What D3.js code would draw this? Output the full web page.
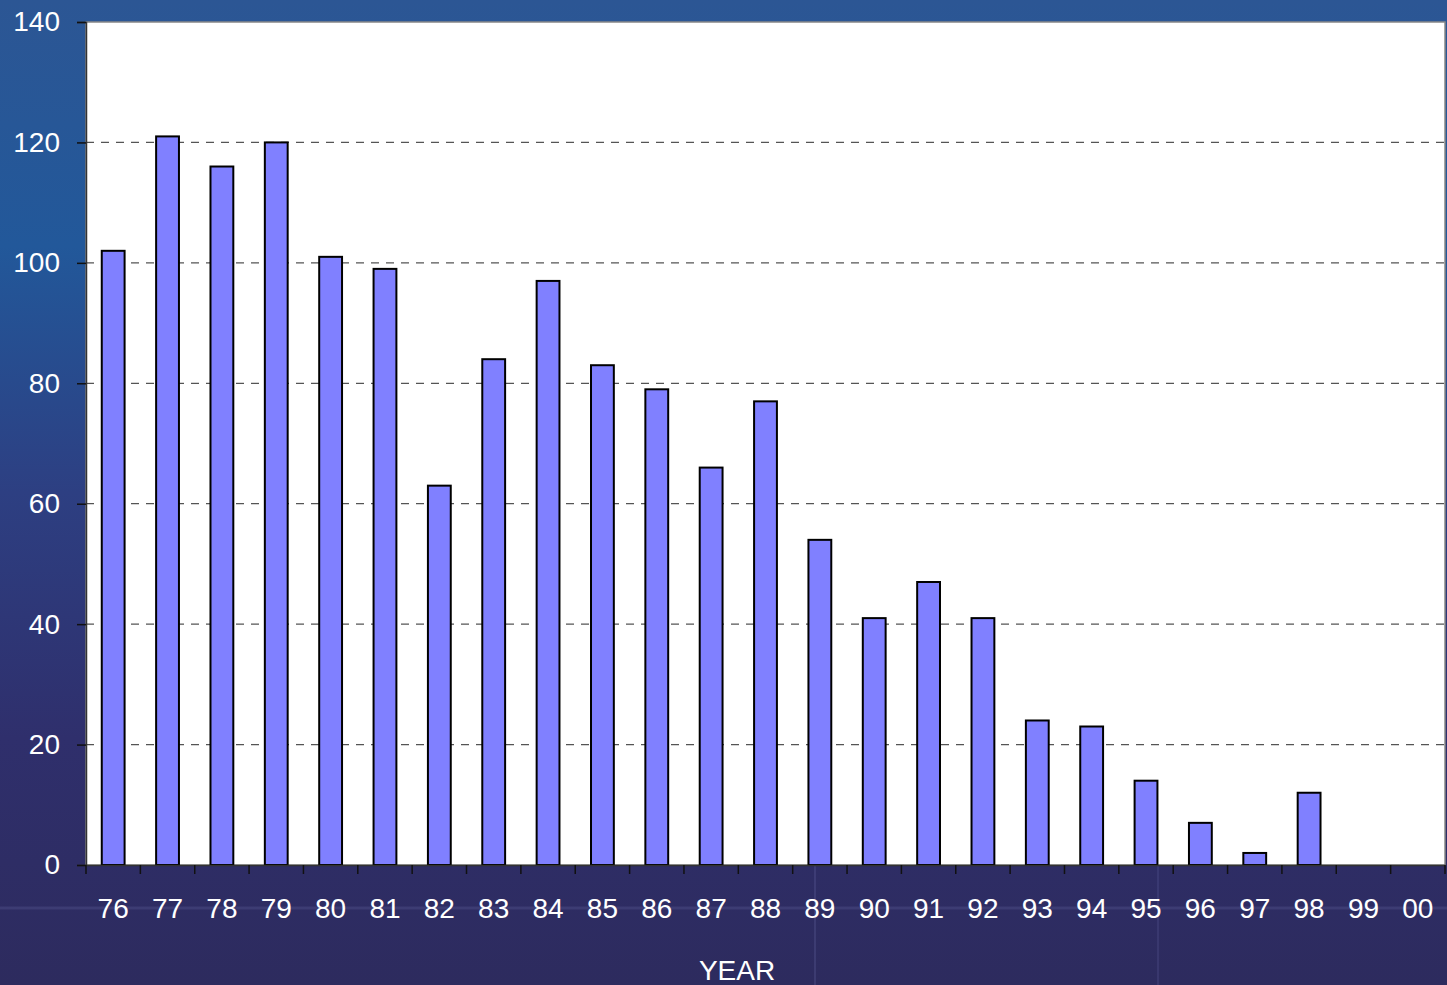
<!DOCTYPE html>
<html>
<head>
<meta charset="utf-8">
<script src="https://cdn.jsdelivr.net/npm/d3@7"></script>
<style>
  html, body { margin: 0; padding: 0; overflow: hidden; }
  svg { display: block; font-family: "Liberation Sans", Arial, sans-serif; }
</style>
</head>
<body>
<svg width="1447" height="985"></svg>
<script>
var years = ["76","77","78","79","80","81","82","83","84","85","86","87","88","89","90","91","92","93","94","95","96","97","98","99","00"];
var counts = [102,121,116,120,101,99,63,84,97,83,79,66,77,54,41,47,41,24,23,14,7,2,12,0,0];
var yTicks = [0,20,40,60,80,100,120,140];

var svg = d3.select("svg"),
    margin = {top: 22, right: 2, bottom: 120, left: 86},
    width = +svg.attr("width") - margin.left - margin.right,
    height = +svg.attr("height") - margin.top - margin.bottom;

// background
var defs = svg.append("defs");
var grad = defs.append("linearGradient").attr("id", "bg").attr("x1", 0).attr("y1", 0).attr("x2", 0).attr("y2", 1);
grad.append("stop").attr("offset", "0%").attr("stop-color", "#2c5694");
grad.append("stop").attr("offset", "25%").attr("stop-color", "#22589a");
grad.append("stop").attr("offset", "50%").attr("stop-color", "#2d3f82");
grad.append("stop").attr("offset", "75%").attr("stop-color", "#2f2f6c");
grad.append("stop").attr("offset", "100%").attr("stop-color", "#2d2b5e");
svg.append("rect").attr("width", 1447).attr("height", 985).attr("fill", "url(#bg)");

// faint decorative glow lines
svg.append("line").attr("x1", 0).attr("x2", 1447).attr("y1", 908).attr("y2", 908)
    .attr("stroke", "#6a6aa8").attr("stroke-opacity", 0.25).attr("stroke-width", 3);
svg.append("line").attr("x1", 815).attr("x2", 815).attr("y1", 865).attr("y2", 985)
    .attr("stroke", "#6a6aa8").attr("stroke-opacity", 0.25).attr("stroke-width", 2);
svg.append("line").attr("x1", 1158).attr("x2", 1158).attr("y1", 865).attr("y2", 985)
    .attr("stroke", "#6a6aa8").attr("stroke-opacity", 0.2).attr("stroke-width", 2);

var g = svg.append("g").attr("transform", "translate(" + margin.left + "," + margin.top + ")");

var x = d3.scaleBand().domain(years).range([0, width]).paddingInner(0.58).paddingOuter(0.29);
var y = d3.scaleLinear().domain([0, 140]).range([height, 0]);

// plot area
g.append("rect").attr("width", width).attr("height", height)
    .attr("fill", "#ffffff").attr("stroke", "#888888").attr("stroke-width", 1.5);

// gridlines
g.selectAll(".grid").data(yTicks.filter(function(d) { return d > 0 && d < 140; }))
  .enter().append("line")
    .attr("class", "grid")
    .attr("x1", 0).attr("x2", width)
    .attr("y1", function(d) { return y(d); })
    .attr("y2", function(d) { return y(d); })
    .attr("stroke", "#555555").attr("stroke-width", 1.2)
    .attr("stroke-dasharray", "8,7");

// bars
g.selectAll(".bar").data(counts)
  .enter().append("rect")
    .attr("class", "bar")
    .attr("x", function(d, i) { return x(years[i]); })
    .attr("width", x.bandwidth())
    .attr("y", function(d) { return y(d); })
    .attr("height", function(d) { return height - y(d); })
    .attr("fill", function(d) { return d > 0 ? "#8080ff" : "none"; })
    .attr("stroke", function(d) { return d > 0 ? "#000000" : "none"; })
    .attr("stroke-width", 2);

// y axis
var yAxis = g.append("g")
    .call(d3.axisLeft(y).tickValues(yTicks).tickSize(9).tickPadding(17));
yAxis.select(".domain").attr("stroke", "#333333").attr("stroke-width", 1.5);
yAxis.selectAll(".tick line").attr("stroke", "#111111").attr("stroke-width", 1.5);
yAxis.selectAll("text").attr("fill", "#ffffff").attr("font-size", 28);

// x axis with ticks at band boundaries
var xAxis = g.append("g").attr("transform", "translate(0," + height + ")")
    .call(d3.axisBottom(x).tickSize(0).tickPadding(33));
xAxis.select(".domain").attr("stroke", "#333333").attr("stroke-width", 1.5);
xAxis.selectAll("text").attr("fill", "#ffffff").attr("font-size", 28);

var step = x.step();
xAxis.selectAll(".bound").data(d3.range(years.length + 1))
  .enter().append("line")
    .attr("class", "bound")
    .attr("x1", function(d) { return d * step; })
    .attr("x2", function(d) { return d * step; })
    .attr("y1", 0).attr("y2", 9)
    .attr("stroke", "#111111").attr("stroke-width", 1.5);

// axis title
svg.append("text")
    .attr("x", 737).attr("y", 980)
    .attr("text-anchor", "middle")
    .attr("fill", "#ffffff").attr("font-size", 28)
    .text("YEAR");
</script>
</body>
</html>
